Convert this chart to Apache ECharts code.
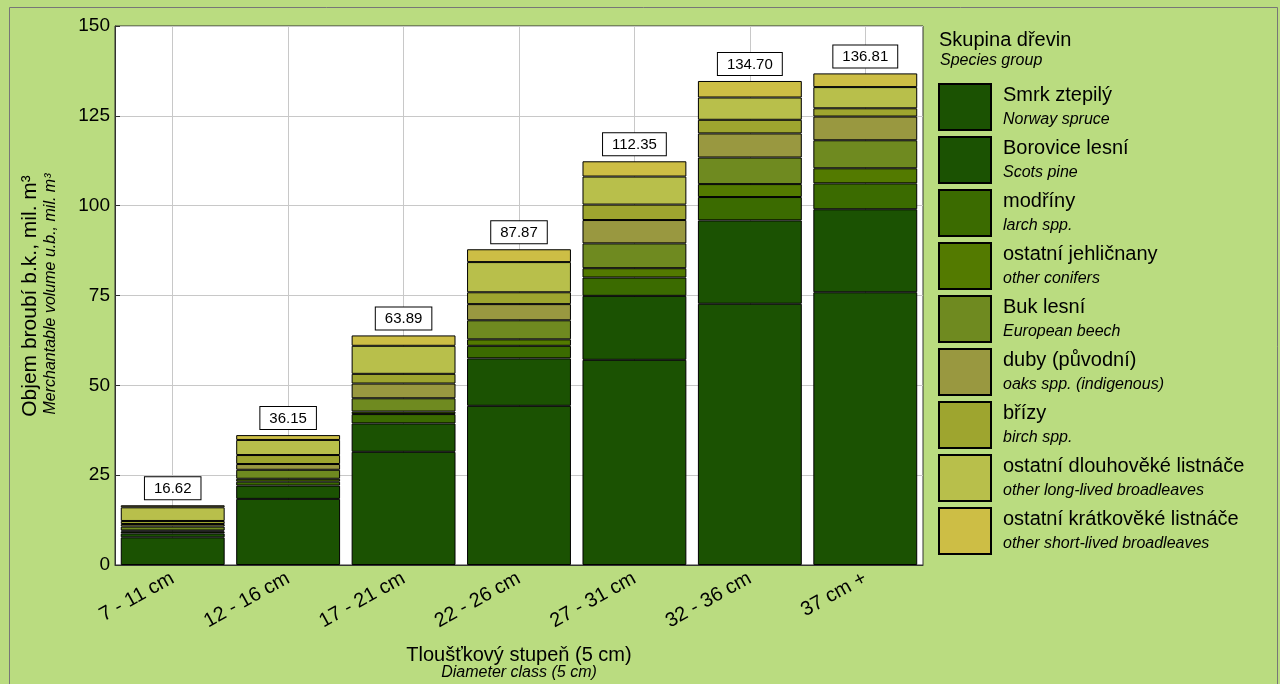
<!DOCTYPE html>
<html>
<head>
<meta charset="utf-8">
<script src="https://cdn.jsdelivr.net/npm/echarts@6/dist/echarts.min.js"></script>
<style>
  html, body { margin: 0; padding: 0; background: #badc80; }
  #chart { width: 1280px; height: 684px; }
</style>
</head>
<body>
<div id="chart"></div>
<script>
const categories = ['7 - 11 cm', '12 - 16 cm', '17 - 21 cm', '22 - 26 cm', '27 - 31 cm', '32 - 36 cm', '37 cm +'];
const totals = [16.62, 36.15, 63.89, 87.87, 112.35, 134.70, 136.81];

const speciesCz = ['Smrk ztepilý', 'Borovice lesní', 'modříny', 'ostatní jehličnany', 'Buk lesní',
  'duby (původní)', 'břízy', 'ostatní dlouhověké listnáče', 'ostatní krátkověké listnáče'];
const speciesEn = ['Norway spruce', 'Scots pine', 'larch spp.', 'other conifers', 'European beech',
  'oaks spp. (indigenous)', 'birch spp.', 'other long-lived broadleaves', 'other short-lived broadleaves'];
const colors = ['#1b5202', '#1b5202', '#3b6b00', '#537a00', '#6f8a20', '#999840', '#9ea52f', '#b8bf4b', '#cdbe45'];

// mil. m3 per diameter class
const smrk = [7.7, 18.4, 31.5, 44.3, 57.1, 72.7, 75.9];
const borovice = [1.1, 3.7, 7.9, 13.2, 17.8, 23.2, 23.1];
const modriny = [0.5, 1.1, 2.6, 3.5, 5.1, 6.5, 7.2];
const ostJehl = [0.3, 0.8, 0.7, 1.8, 2.6, 3.6, 4.2];
const buk = [1.1, 2.5, 3.7, 5.3, 6.9, 7.4, 7.8];
const duby = [0.7, 1.6, 4.1, 4.5, 6.5, 6.7, 6.6];
const brizy = [0.85, 2.5, 2.7, 3.3, 4.3, 3.8, 2.3];
const dlouhoveke = [3.8, 4.2, 7.8, 8.4, 7.8, 6.2, 5.9];
const kratkoveke = [0.57, 1.35, 2.89, 3.57, 4.25, 4.6, 3.81];

const seriesData = [smrk, borovice, modriny, ostJehl, buk, duby, brizy, dlouhoveke, kratkoveke];

const FONT = '"Liberation Sans", Arial, sans-serif';
const chart = echarts.init(document.getElementById('chart'));

const series = seriesData.map((data, i) => ({
  name: speciesCz[i],
  type: 'bar',
  stack: 'total',
  xAxisIndex: 0,
  yAxisIndex: 0,
  barWidth: '90%',
  data: data,
  itemStyle: { color: colors[i], borderColor: '#000', borderWidth: 1 },
  emphasis: { disabled: true },
  label: i === seriesData.length - 1 ? {
    show: true,
    position: 'top',
    distance: 6,
    formatter: (p) => totals[p.dataIndex].toFixed(2),
    fontFamily: FONT,
    fontSize: 15,
    color: '#000',
    backgroundColor: '#fff',
    borderColor: '#000',
    borderWidth: 1,
    padding: [4, 9, 3, 9]
  } : { show: false }
}));

chart.setOption({
  backgroundColor: '#badc80',
  animation: false,
  textStyle: { fontFamily: FONT },
  grid: [
    { left: 115, top: 26, right: 357, bottom: 119, show: true, backgroundColor: '#fff', borderColor: '#333', borderWidth: 1 },
    // helper grid: vertical gridlines through the bar centres
    { left: 172.7, top: 26, right: 414.7, bottom: 119 }
  ],
  xAxis: [
    {
      type: 'category',
      gridIndex: 0,
      data: categories,
      axisTick: { show: false },
      axisLine: { lineStyle: { color: '#333' } },
      axisLabel: { rotate: 29, fontSize: 20, color: '#000', margin: 12, fontFamily: FONT },
      splitLine: { show: false }
    },
    {
      type: 'category',
      gridIndex: 1,
      boundaryGap: false,
      data: categories,
      z: 1,
      axisLine: { show: false },
      axisTick: { show: false },
      axisLabel: { show: false },
      splitLine: { show: true, lineStyle: { color: '#c8c8c8', width: 1 } }
    }
  ],
  yAxis: [
    {
      type: 'value',
      gridIndex: 0,
      min: 0,
      max: 150,
      interval: 25,
      axisLine: { show: true, lineStyle: { color: '#333' } },
      axisTick: { show: true, inside: true, length: 5, lineStyle: { color: '#333' } },
      axisLabel: { fontSize: 19, color: '#000', margin: 5, fontFamily: FONT },
      splitLine: { show: true, lineStyle: { color: '#c8c8c8', width: 1 } }
    },
    { type: 'value', gridIndex: 1, show: false, min: 0, max: 150 }
  ],
  legend: {
    orient: 'vertical',
    left: 938,
    top: 83,
    padding: 0,
    itemWidth: 52,
    itemHeight: 46,
    itemGap: 5,
    icon: 'rect',
    selectedMode: false,
    data: speciesCz,
    formatter: (name) => {
      const i = speciesCz.indexOf(name);
      return '{a|' + speciesCz[i] + '}\n{b|' + speciesEn[i] + '}';
    },
    textStyle: {
      padding: [0, 0, 0, 7],
      rich: {
        a: { fontSize: 20, color: '#000', fontFamily: FONT, lineHeight: 25 },
        b: { fontSize: 16, fontStyle: 'italic', color: '#000', fontFamily: FONT, lineHeight: 24 }
      }
    }
  },
  graphic: [
    {
      type: 'rect', silent: true, z: 100,
      shape: { x: 9.5, y: 7.5, width: 1268, height: 700 },
      style: { fill: 'none', stroke: '#777', lineWidth: 1 }
    },
    {
      type: 'text', x: 939, y: 40,
      style: { text: 'Skupina dřevin', font: '20px ' + FONT, fill: '#000', verticalAlign: 'middle' }
    },
    {
      type: 'text', x: 940, y: 61,
      style: { text: 'Species group', font: 'italic 16px ' + FONT, fill: '#000', verticalAlign: 'middle' }
    },
    {
      type: 'text', x: 30, y: 296, rotation: Math.PI / 2,
      style: { text: 'Objem broubí b.k., mil. m³', font: '21px ' + FONT, fill: '#000', align: 'center', verticalAlign: 'middle' }
    },
    {
      type: 'text', x: 51, y: 294, rotation: Math.PI / 2,
      style: { text: 'Merchantable volume u.b., mil. m³', font: 'italic 16px ' + FONT, fill: '#000', align: 'center', verticalAlign: 'middle' }
    },
    {
      type: 'text', x: 519, y: 655,
      style: { text: 'Tloušťkový stupeň (5 cm)', font: '20px ' + FONT, fill: '#000', align: 'center', verticalAlign: 'middle' }
    },
    {
      type: 'text', x: 519, y: 673,
      style: { text: 'Diameter class (5 cm)', font: 'italic 16px ' + FONT, fill: '#000', align: 'center', verticalAlign: 'middle' }
    }
  ],
  series: series
});
</script>
</body>
</html>
